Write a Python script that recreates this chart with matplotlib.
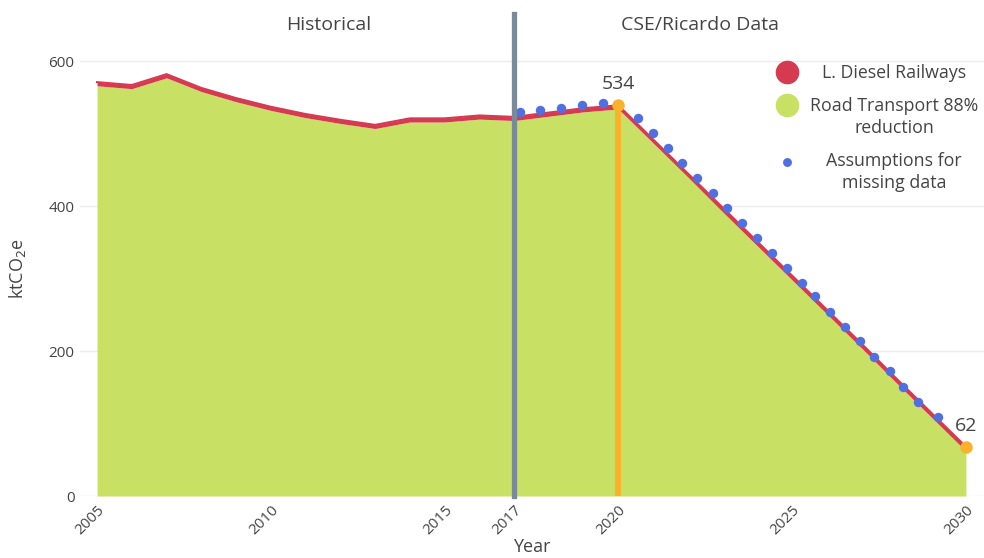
import matplotlib.pyplot as plt

plt.rcParams['font.family'] = ['Open Sans', 'DejaVu Sans']

# Annual emissions, ktCO2e
years = [2005, 2006, 2007, 2008, 2009, 2010, 2011, 2012, 2013, 2014, 2015, 2016, 2017,
         2018, 2019, 2020, 2021, 2022, 2023, 2024, 2025, 2026, 2027, 2028, 2029, 2030]
road_transport = [566, 562, 577, 558, 544, 532, 522, 514, 507, 516, 516, 520, 518,
                  524, 530, 534, 487, 440, 392, 345, 298, 251, 204, 156, 109, 62]
diesel_railways = [5, 5, 5, 5, 5, 5, 5, 5, 5, 5, 5, 5, 5,
                   5, 5, 5, 5, 5, 6, 6, 6, 6, 6, 6, 6, 6]

# Gap-filled estimates
assumed_years = [2017.17, 2017.74, 2018.35, 2018.95, 2019.56,
                 2020.56, 2021.0, 2021.44, 2021.84, 2022.27, 2022.73, 2023.13, 2023.56,
                 2024.0, 2024.42, 2024.86, 2025.27, 2025.67, 2026.1, 2026.52, 2026.96,
                 2027.36, 2027.82, 2028.2, 2028.63, 2029.19]
assumed_values = [530, 532, 535, 539, 542,
                  521, 501, 480, 459, 439, 418, 397, 377,
                  356, 335, 314, 294, 276, 254, 233, 214,
                  192, 172, 150, 130, 109]

split_year = 2017
target_years = [2020, 2030]
xtick_years = [2005, 2010, 2015, 2017, 2020, 2025, 2030]
yticks = [0, 200, 400, 600]

green = '#c8e064'
red = '#d63a50'
blue = '#5070e2'
orange = '#fbb22b'
slate = '#7b8a99'
text_color = '#444444'

totals = [r + d for r, d in zip(road_transport, diesel_railways)]

fig = plt.figure(figsize=(9.84, 5.58), dpi=100)
ax = fig.add_axes([80 / 984, 62 / 558, 904 / 984, 482 / 558])

ax.fill_between(years, 0, road_transport, color=green, lw=0, zorder=2)
ax.fill_between(years, road_transport, totals, color=red, lw=0, zorder=3)
ax.plot(years, totals, color=red, lw=1.5, zorder=3)

ax.scatter(assumed_years, assumed_values, s=46, color=blue, lw=0, zorder=4)

ax.axvline(split_year, ymin=0, ymax=1, color=slate, lw=3.8, zorder=5, clip_on=False)

for yr in target_years:
    i = years.index(yr)
    if yr != years[-1]:
        ax.vlines(yr, 0, totals[i], color=orange, lw=4.2, zorder=5)
    ax.plot(yr, totals[i], 'o', ms=9, color=orange, mec='none', zorder=6)
    ax.annotate(str(road_transport[i]), (yr, totals[i]), xytext=(0, 15),
                textcoords='offset points', ha='center', va='center',
                fontsize=14, color=text_color, zorder=7)

ax.set_xlim(2004.51, 2030.52)
ax.set_ylim(0, 665)
ax.set_yticks(yticks)
ax.set_xticks(xtick_years)
ax.set_xticklabels([str(y) for y in xtick_years], rotation=45, ha='right', va='top',
                   rotation_mode='anchor')
ax.tick_params(axis='both', length=0, labelsize=11, labelcolor=text_color)
ax.tick_params(axis='y', pad=4)
ax.tick_params(axis='x', pad=5)
ax.grid(axis='y', color='#ececec', lw=1)
ax.set_axisbelow(True)
for side in ax.spines.values():
    side.set_visible(False)

ax.set_xlabel('Year', fontsize=13, color=text_color)
ax.xaxis.set_label_coords(0.5, -0.087)
ax.set_ylabel('ktCO$_2$e', fontsize=13, color=text_color)
ax.yaxis.set_label_coords(-0.0575, 0.473)

ax.text(2011.67, 0.977, 'Historical', transform=ax.get_xaxis_transform(),
        ha='center', va='center', fontsize=14, color=text_color)
ax.text(2022.35, 0.977, 'CSE/Ricardo Data', transform=ax.get_xaxis_transform(),
        ha='center', va='center', fontsize=14, color=text_color)

# Legend drawn by hand, positions in figure pixels
def fig_xy(px, py):
    return px / 984, 1 - py / 558

legend_items = [
    (72, red, 17, 'L. Diesel Railways', 73),
    (105, green, 17, 'Road Transport 88%\nreduction', 117),
    (162, blue, 6.4, 'Assumptions for\nmissing data', 172),
]
for marker_y, colour, size, label, label_y in legend_items:
    mx, my = fig_xy(787, marker_y)
    fig.add_artist(plt.Line2D([mx], [my], marker='o', ms=size, color=colour, mec='none',
                              transform=fig.transFigure))
    fig.text(*fig_xy(894, label_y), label, ha='center', va='center', fontsize=12.8,
             color=text_color, linespacing=1.3)

fig.savefig('out.png', dpi=100, facecolor='white')
